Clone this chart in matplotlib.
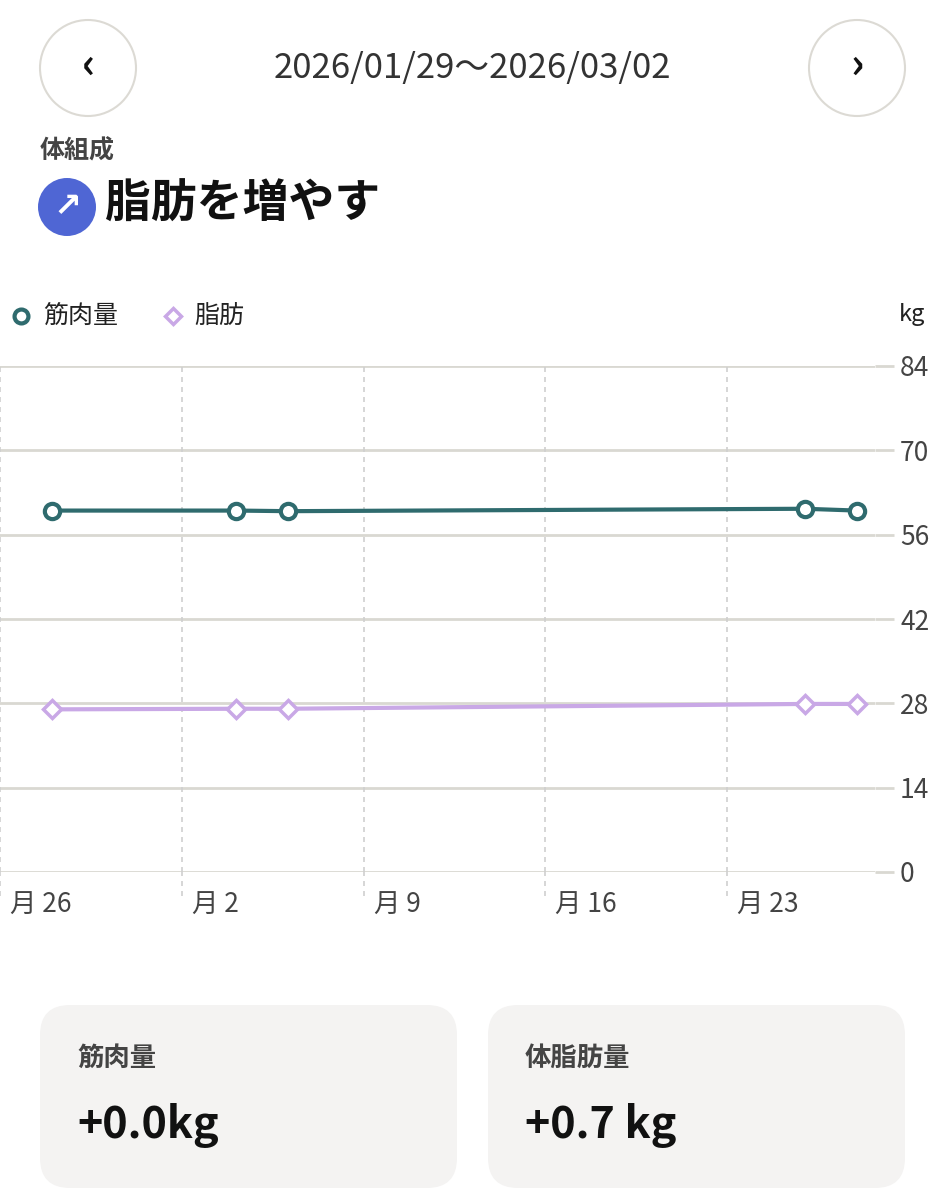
import matplotlib
matplotlib.use("Agg")
import matplotlib.pyplot as plt
from matplotlib.patches import Circle, FancyBboxPatch
import matplotlib.transforms as mt

plt.rcParams['font.family'] = ['Noto Sans CJK JP', 'DejaVu Sans']

# data (day offset from Feb 2 ; Jan 26 = -7)
days = [-5, 2.1, 4.1, 24.0, 26.0]
muscle = [60.0, 60.0, 59.9, 60.3, 60.0]
fat = [27.0, 27.1, 27.1, 27.9, 27.9]
xticks = [-7, 0, 7, 14, 21]
xticklabels = ["月 26", "月 2", "月 9", "月 16", "月 23"]
yticks = [0, 14, 28, 42, 56, 70, 84]

W, H = 946, 1200
fig = plt.figure(figsize=(9.46, 12), dpi=100)
fig.patch.set_facecolor("white")

def fx(x): return x / W
def fy(y): return 1 - y / H

ax = fig.add_axes([0, fy(872), fx(875), fy(366) - fy(872)])
for y in yticks:
    ax.axhline(y, color="#d9d8d2", lw=2, zorder=1)
for x in xticks:
    ax.plot([x, x], [0, 84], color="#cfcfcf", lw=1.2, ls=(0, (3, 3)), zorder=1)
    ax.plot([x, x], [-4, 0], color="#cfcfcf", lw=1.2, ls=(0, (3, 3)), clip_on=False)
ax.plot(days, muscle, color="#2f6b6e", lw=3, marker="o", ms=11, mfc="white",
        mec="#2f6b6e", mew=3, zorder=3)
ax.plot(days, fat, color="#c9a8e6", lw=3, marker="D", ms=9, mfc="white",
        mec="#c9a8e6", mew=2.5, zorder=3)
ax.set_xlim(-4.33, 26.7)
ax.set_ylim(0, 84)
for s in ax.spines.values():
    s.set_visible(False)
ax.set_xticks(xticks)
ax.set_xticklabels(xticklabels, fontsize=19, color="#444444", ha="left")
ax.tick_params(axis="x", length=0, pad=14)
ax.yaxis.tick_right()
ax.set_yticks(yticks)
ax.set_yticklabels([str(v) for v in yticks], fontsize=19, color="#444444")
ax.tick_params(axis="y", length=14, color="#d9d8d2", width=2, pad=4)
off = mt.ScaledTranslation(10/100, 0, fig.dpi_scale_trans)
for lbl in ax.get_xticklabels():
    lbl.set_transform(lbl.get_transform() + off)

lax = fig.add_axes([0, 0, 1, 1], facecolor="none")
lax.set_xlim(0, W); lax.set_ylim(H, 0); lax.axis("off")

# header
for cx in (88, 857):
    lax.add_patch(Circle((cx, 68), 48, fc="white", ec="#dcdad4", lw=1.5))
lax.text(88, 66, "‹", fontsize=30, ha="center", va="center", fontweight="bold", color="#111")
lax.text(857, 66, "›", fontsize=30, ha="center", va="center", fontweight="bold", color="#111")
lax.text(472, 68, "2026/01/29〜2026/03/02", fontsize=25, ha="center", va="center", color="#333")
lax.text(40, 151, "体組成", fontsize=18, ha="left", va="center", color="#444", fontweight="bold")
lax.add_patch(Circle((67, 207), 29, fc="#4f66d4", ec="none"))
lax.text(67, 207, "↗", fontsize=24, ha="center", va="center", color="white",
         fontweight="bold", family="DejaVu Sans")
lax.text(105, 205, "脂肪を増やす", fontsize=33, ha="left", va="center", color="#111", fontweight="bold")

# legend
lax.plot([21], [316], marker="o", ms=10, mfc="white", mec="#2f6b6e", mew=3)
lax.plot([173], [316], marker="D", ms=8, mfc="white", mec="#c9a8e6", mew=2.5)
lax.text(43, 316, "筋肉量", fontsize=18, va="center", color="#222")
lax.text(194, 316, "脂肪", fontsize=18, va="center", color="#222")
lax.text(925, 314, "kg", fontsize=17, va="center", ha="right", color="#222")

# cards
for x0, title, val in [(40, "筋肉量", "+0.0kg"), (488, "体脂肪量", "+0.7 kg")]:
    lax.add_patch(FancyBboxPatch((x0, 1005), 417, 183, boxstyle="round,pad=0,rounding_size=30",
                                 fc="#f4f3f2", ec="none"))
    lax.text(x0 + 37, 1058, title, fontsize=19, va="center", color="#444", fontweight="bold")
    lax.text(x0 + 37, 1125, val, fontsize=31, va="center", color="#111", fontweight="bold")

fig.savefig("out.png", dpi=100)
